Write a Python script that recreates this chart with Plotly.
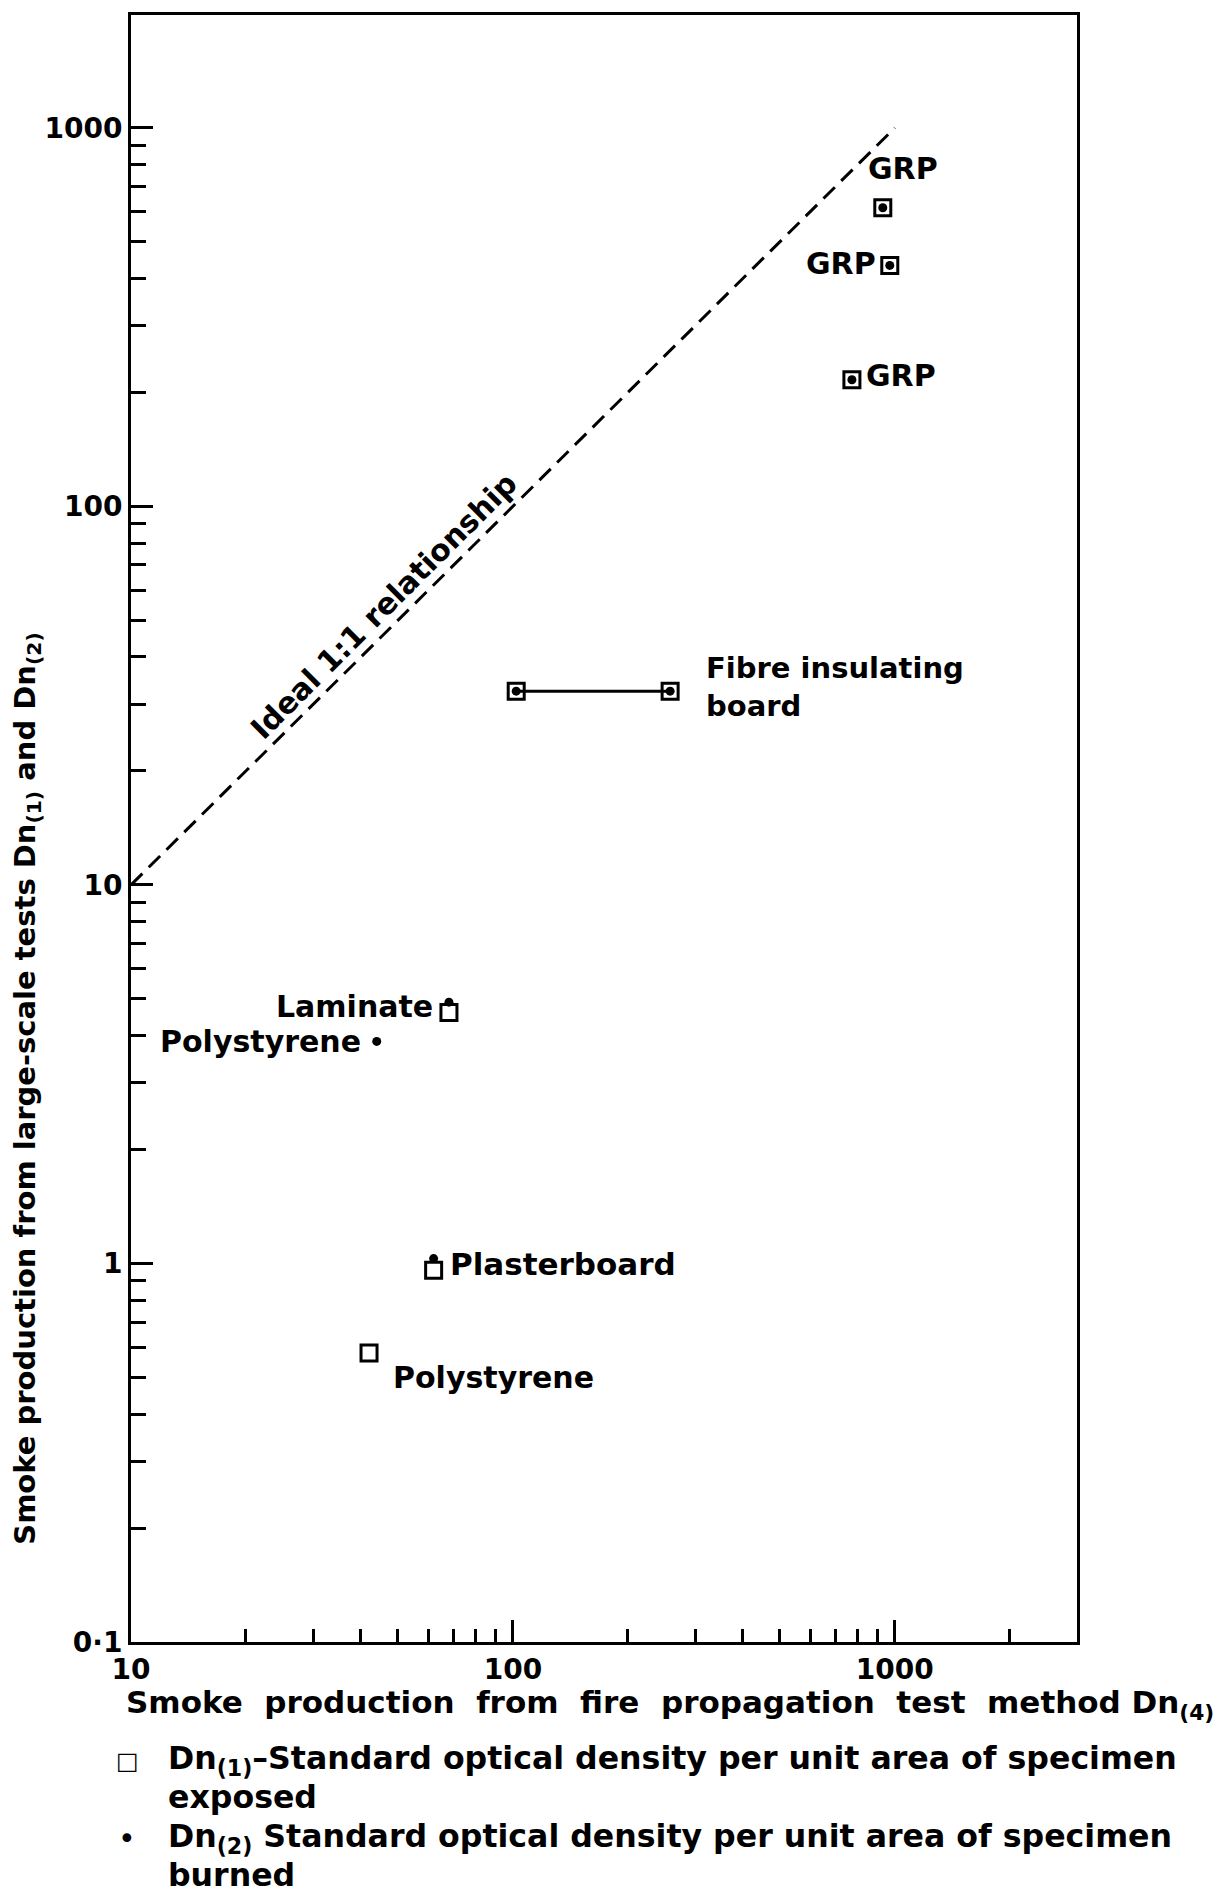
import numpy as np
import plotly.graph_objects as go

# Smoke production: fire propagation test (Dn4) vs large-scale tests (Dn1, Dn2)
materials = ["GRP", "GRP", "GRP", "Fibre insulating board", "Fibre insulating board",
             "Laminate", "Plasterboard", "Polystyrene"]

# Dn(1): specimen exposed (open squares)
dn1_x = [930, 970, 772, 102, 258, 68, 62, 42]
dn1_y = [615, 433, 216, 32.5, 32.5, 4.6, 0.96, 0.58]

# Dn(2): specimen burned (dots)
dn2_x = [930, 970, 772, 102, 258, 68, 62, 44]
dn2_y = [615, 433, 216, 32.5, 32.5, 4.9, 1.03, 3.86]

# fibre insulating board range (joined by a line)
fibre_x = [102, 258]
fibre_y = [32.5, 32.5]

# ideal 1:1 relationship
ideal_x = [10, 1000]
ideal_y = [10, 1000]

x_ticks = [10, 100, 1000]
x_ticklabels = ["10", "100", "1000"]
y_ticks = [0.1, 1, 10, 100, 1000]
y_ticklabels = ["0·1", "1", "10", "100", "1000"]

x_minor = [m * d for d in (10, 100) for m in range(2, 10)] + [2000]
y_minor = [m * d for d in (0.1, 1, 10, 100) for m in range(2, 10)]

# key entries below the chart: (symbol, lines of text)
key_entries = [
    ("□", ["Dn<sub>(1)</sub>–Standard optical density per unit area of specimen", "exposed"]),
    ("•", ["Dn<sub>(2)</sub> Standard optical density per unit area of specimen", "burned"]),
]

FONT = "DejaVu Sans"
INK = "black"
NB = "\u00a0"

fig = go.Figure()

fig.add_trace(go.Scatter(
    x=ideal_x, y=ideal_y, mode="lines", showlegend=False, hoverinfo="skip",
    line=dict(color=INK, width=3, dash="16px,9px"),
))

fig.add_trace(go.Scatter(
    x=fibre_x, y=fibre_y, mode="lines", showlegend=False, hoverinfo="skip",
    line=dict(color=INK, width=3),
))

fig.add_trace(go.Scatter(
    x=dn1_x, y=dn1_y, mode="markers", text=materials, name="Dn(1)", showlegend=False,
    marker=dict(symbol="square-open", size=16, color=INK, line=dict(width=3, color=INK)),
))

fig.add_trace(go.Scatter(
    x=dn2_x, y=dn2_y, mode="markers", text=materials, name="Dn(2)", showlegend=False,
    marker=dict(symbol="circle", size=9, color=INK),
))

LABEL_FONT = dict(family=FONT, size=30, color=INK, weight="bold")

# point labels: (text, x, y, xanchor, yanchor, xshift, yshift, font size)
labels = [
    ("GRP", dn1_x[0], dn1_y[0], "center", "bottom", 20, 20, 30),
    ("GRP", dn1_x[1], dn1_y[1], "right", "middle", -12, 2, 30),
    ("GRP", dn1_x[2], dn1_y[2], "left", "middle", 12, 4, 30),
    ("Fibre insulating<br>board", dn1_x[4], dn1_y[4], "left", "middle", 34, 4, 29),
    ("Laminate", dn1_x[5], dn1_y[5], "right", "middle", -14, 6, 30),
    ("Polystyrene", dn2_x[7], dn2_y[7], "right", "middle", -14, 0, 30),
    ("Plasterboard", dn1_x[6], dn1_y[6], "left", "middle", 14, 6, 31),
    ("Polystyrene", dn1_x[7], dn1_y[7], "left", "middle", 22, -24, 30),
]
for txt, x, y, xa, ya, xs, ys, fs in labels:
    fig.add_annotation(
        x=np.log10(x), y=np.log10(y), text=txt, showarrow=False,
        xanchor=xa, yanchor=ya, xshift=xs, yshift=ys, align="left",
        font=dict(LABEL_FONT, size=fs),
    )

fig.add_annotation(
    x=np.log10(45.7), y=np.log10(54.5), text="Ideal 1:1 relationship", showarrow=False,
    textangle=-45, font=LABEL_FONT,
)

# axis titles
x_title = (NB + " ").join(
    "Smoke production from fire propagation test method".split(" ")
) + " Dn<sub>(4)</sub>"
fig.add_annotation(
    xref="paper", yref="paper", x=0.570, y=-0.0387,
    text=x_title,
    showarrow=False, xanchor="center", yanchor="middle",
    font=dict(family=FONT, size=31, color=INK, weight="bold"),
)
fig.add_annotation(
    xref="paper", yref="paper", x=-0.110, y=0.340,
    text="Smoke production from large-scale tests Dn<sub>(1)</sub> and Dn<sub>(2)</sub>",
    showarrow=False, xanchor="center", yanchor="middle", textangle=-90,
    font=dict(family=FONT, size=29, color=INK, weight="bold"),
)

# key below the chart
key_rows_y = [(-0.0731, -0.0952), (-0.1209, -0.1430)]
for (sym, lines), rows in zip(key_entries, key_rows_y):
    fig.add_annotation(
        xref="paper", yref="paper", x=-0.0042, y=rows[0], text=sym,
        showarrow=False, xanchor="center", yanchor="middle",
        font=dict(family=FONT, size=24 if sym == "□" else 30, color=INK),
    )
    for line, yy in zip(lines, rows):
        fig.add_annotation(
            xref="paper", yref="paper", x=0.037, y=yy, text=line,
            showarrow=False, xanchor="left", yanchor="middle",
            font=dict(family=FONT, size=31.6, color=INK, weight="bold"),
        )

axis_common = dict(
    type="log", showline=True, linecolor=INK, linewidth=3, mirror=True,
    ticks="inside", ticklen=22, tickwidth=2.5, tickcolor=INK,
    showgrid=False, zeroline=False,
    tickfont=dict(family=FONT, size=28, color=INK, weight="bold"),
)

fig.update_xaxes(
    range=[1, 3.477], tickmode="array", tickvals=x_ticks, ticktext=x_ticklabels,
    minor=dict(tickmode="array", tickvals=x_minor, ticks="inside", ticklen=13,
               tickwidth=2.5, tickcolor=INK, showgrid=False),
    **axis_common,
)
fig.update_yaxes(
    range=[-1, 3.298], tickmode="array", tickvals=y_ticks, ticktext=y_ticklabels,
    minor=dict(tickmode="array", tickvals=y_minor, ticks="inside", ticklen=15,
               tickwidth=2.5, tickcolor=INK, showgrid=False),
    **axis_common,
)

fig.update_layout(
    width=1217, height=1892,
    margin=dict(l=131, r=140, t=13, b=250),
    paper_bgcolor="white", plot_bgcolor="white",
    font=dict(family=FONT, color=INK),
    showlegend=False,
)

fig.write_html("out.html")
